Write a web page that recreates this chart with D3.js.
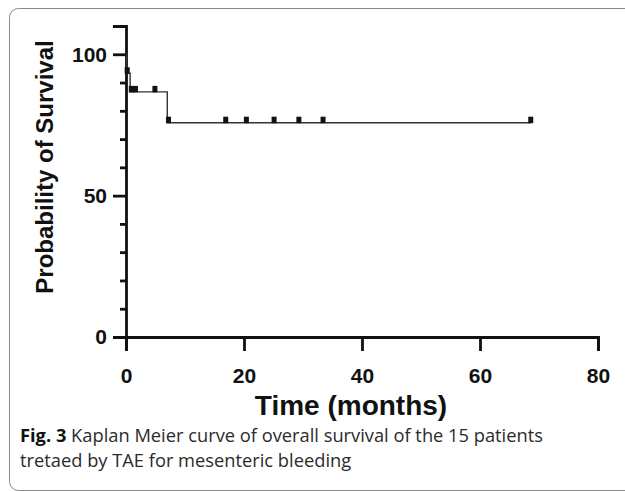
<!DOCTYPE html>
<html>
<head>
<meta charset="utf-8">
<script src="https://cdn.jsdelivr.net/npm/d3@7"></script>
<style>
  body { margin: 0; background: #fff; }
  svg { display: block; }
</style>
</head>
<body>
<svg id="chart" width="625" height="492"></svg>
<script>
// step points of the survival curve (time in months, survival in %)
var stepTimes = [0, 0.1, 0.7, 7.0, 68.6];
var stepSurvival = [100, 93.3, 86.7, 75.8, 75.8];

// censored patients (tick marks on the curve)
var censorTimes = [0.2, 0.9, 1.6, 4.9, 7.2, 16.9, 20.4, 25.1, 29.3, 33.4, 68.6];
var censorSurvival = [93.3, 86.7, 86.7, 86.7, 75.8, 75.8, 75.8, 75.8, 75.8, 75.8, 75.8];

// axis ticks
var xTicks = [0, 20, 40, 60, 80];
var yMajorTicks = [0, 50, 100];
var yMinorTicks = [10, 20, 30, 40, 60, 70, 80, 90, 110];

var captionBold = "Fig. 3";
var captionLine1 = " Kaplan Meier curve of overall survival of the 15 patients";
var captionLine2 = "tretaed by TAE for mesenteric bleeding";

var svg = d3.select("#chart");

// the rounded frame around the figure
svg.append("rect")
  .attr("x", 9.5).attr("y", 8.5)
  .attr("width", 640).attr("height", 482)
  .attr("rx", 9)
  .attr("fill", "none")
  .attr("stroke", "#8a8a8a")
  .attr("stroke-width", 1);

// scales
var x = d3.scaleLinear().domain([0, 80]).range([126, 598]);
var y = d3.scaleLinear().domain([0, 110]).range([337, 26]);

// y axis with major ticks
var yAxis = svg.append("g")
  .attr("transform", "translate(" + x(0) + ",0)")
  .call(d3.axisLeft(y).tickValues(yMajorTicks).tickSize(13).tickPadding(6));

// minor ticks on y
var yMinor = svg.append("g")
  .attr("transform", "translate(" + x(0) + ",0)")
  .call(d3.axisLeft(y).tickValues(yMinorTicks).tickSize(6).tickFormat(""));
yMinor.select(".domain").remove();

// x axis
var xAxis = svg.append("g")
  .attr("transform", "translate(0," + y(0) + ")")
  .call(d3.axisBottom(x).tickValues(xTicks).tickSize(14).tickPadding(17));

// style the axes (thick black lines like the original)
svg.selectAll(".domain, .tick line")
  .style("stroke", "#111")
  .style("stroke-width", "2.8px");
svg.selectAll(".tick text")
  .style("fill", "#111")
  .style("font-family", "'Liberation Sans', Arial, sans-serif")
  .style("font-weight", "bold")
  .style("font-size", "21px");

// axis titles
svg.append("text")
  .attr("x", 351)
  .attr("y", 415)
  .attr("text-anchor", "middle")
  .attr("fill", "#111")
  .style("font-family", "'Liberation Sans', Arial, sans-serif")
  .style("font-weight", "bold")
  .style("font-size", "28px")
  .text("Time (months)");

svg.append("text")
  .attr("transform", "translate(53,167) rotate(-90)")
  .attr("text-anchor", "middle")
  .attr("fill", "#111")
  .style("font-family", "'Liberation Sans', Arial, sans-serif")
  .style("font-weight", "bold")
  .style("font-size", "24px")
  .text("Probability of Survival");

// survival curve as a step line
var stepData = stepTimes.map(function(t, i) { return [t, stepSurvival[i]]; });
var line = d3.line()
  .x(function(d) { return x(d[0]); })
  .y(function(d) { return y(d[1]); })
  .curve(d3.curveStepAfter);

svg.append("path")
  .datum(stepData)
  .attr("d", line)
  .attr("fill", "none")
  .attr("stroke", "#333")
  .attr("stroke-width", 1.4);

// censor marks as small blocks sitting on the line
var censorData = censorTimes.map(function(t, i) { return [t, censorSurvival[i]]; });
svg.selectAll(".censor")
  .data(censorData)
  .enter()
  .append("rect")
  .attr("class", "censor")
  .attr("x", function(d) { return x(d[0]) - 2.5; })
  .attr("y", function(d) { return y(d[1]) - 6; })
  .attr("width", 5)
  .attr("height", 6.5)
  .attr("fill", "#111");

// caption below the chart
var caption = svg.append("text")
  .attr("x", 20)
  .attr("y", 442)
  .attr("fill", "#2b2b2b")
  .style("font-family", "'Open Sans', 'Noto Sans', sans-serif")
  .style("font-size", "18.3px");
caption.append("tspan")
  .style("font-weight", "bold")
  .attr("fill", "#111")
  .text(captionBold);
caption.append("tspan")
  .text(captionLine1);

svg.append("text")
  .attr("x", 20)
  .attr("y", 467)
  .attr("fill", "#2b2b2b")
  .style("font-family", "'Open Sans', 'Noto Sans', sans-serif")
  .style("font-size", "18.3px")
  .text(captionLine2);
</script>
</body>
</html>
